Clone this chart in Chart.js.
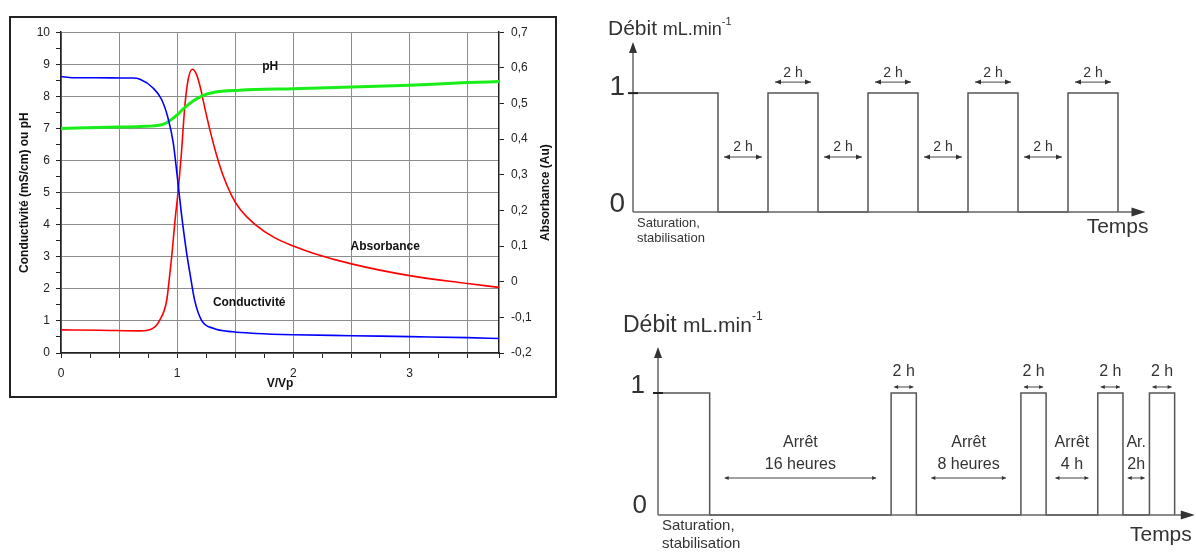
<!DOCTYPE html>
<html>
<head>
<meta charset="utf-8">
<script src="https://cdn.jsdelivr.net/npm/chart.js@4.4.1/dist/chart.umd.min.js"></script>
<style>
  body { margin: 0; background: #fff; width: 1196px; height: 552px; position: relative; overflow: hidden; }
  #cadre { position: absolute; left: 9px; top: 16px; width: 548px; height: 382px; box-sizing: border-box; border: 2px solid #222; }
  #courbes { position: absolute; left: 0; top: 0; }
  #debit1 { position: absolute; left: 590px; top: 0; }
  #debit2 { position: absolute; left: 590px; top: 290px; }
</style>
</head>
<body>
<div id="cadre"><canvas id="courbes" width="544" height="378"></canvas></div>
<canvas id="debit1" width="606" height="262"></canvas>
<canvas id="debit2" width="606" height="262"></canvas>
<script>
// --- elution curves (V/Vp) ---
const vvpCond = [0, 0.1, 0.3, 0.55, 0.62, 0.68, 0.79, 0.865, 0.92, 0.966, 1.0, 1.035, 1.08, 1.11, 1.15, 1.21, 1.31, 1.48, 1.68, 2.0, 2.5, 3.0, 3.5, 3.77];
const conductivite = [8.62, 8.58, 8.58, 8.57, 8.57, 8.53, 8.27, 7.91, 7.34, 6.56, 5.53, 4.39, 3.15, 2.48, 1.65, 1.02, 0.77, 0.66, 0.61, 0.57, 0.54, 0.51, 0.48, 0.45];

const vvpPh = [0, 0.4, 0.68, 0.87, 0.92, 1.0, 1.05, 1.14, 1.21, 1.31, 1.54, 2.0, 2.5, 3.0, 3.5, 3.77];
const ph = [7.0, 7.04, 7.06, 7.12, 7.2, 7.42, 7.6, 7.86, 8.01, 8.12, 8.19, 8.24, 8.29, 8.35, 8.43, 8.46];

const vvpAbs = [0, 0.335, 0.68, 0.79, 0.85, 0.91, 0.937, 0.957, 0.98, 1.01, 1.035, 1.066, 1.095, 1.13, 1.167, 1.2, 1.24, 1.28, 1.34, 1.395, 1.47, 1.54, 1.68, 1.83, 2.0, 2.17, 2.5, 3.0, 3.5, 3.77];
const absorbance = [-0.135, -0.136, -0.138, -0.131, -0.108, -0.052, 0.023, 0.084, 0.167, 0.26, 0.354, 0.493, 0.568, 0.596, 0.581, 0.544, 0.484, 0.428, 0.354, 0.298, 0.241, 0.204, 0.158, 0.125, 0.1, 0.08, 0.05, 0.017, -0.005, -0.016];

// --- flow schedules (hours) ---
const dureesHaut = [3.4, 2, 2, 2, 2, 2, 2, 2, 2];
const debitHaut = [1, 0, 1, 0, 1, 0, 1, 0, 1];
const textesHaut = [null, ['2 h'], ['2 h'], ['2 h'], ['2 h'], ['2 h'], ['2 h'], ['2 h'], ['2 h']];

const dureesBas = [4.1, 14.4, 2, 8.3, 2, 4.1, 2, 2.1, 2];
const debitBas = [1, 0, 1, 0, 1, 0, 1, 0, 1];
const textesBas = [null, ['Arrêt', '16 heures'], ['2 h'], ['Arrêt', '8 heures'], ['2 h'], ['Arrêt', '4 h'], ['2 h'], ['Ar.', '2h'], ['2 h']];

const FONT = "'Liberation Sans', Arial, sans-serif";
Chart.defaults.font.family = FONT;
Chart.defaults.animation = false;

function pts(xs, ys) { return xs.map((v, i) => ({ x: v, y: ys[i] })); }
function near(v, step) { return Math.abs(v / step - Math.round(v / step)) < 1e-6; }

const etiquettes = {
  id: 'etiquettes',
  afterDatasetsDraw(chart) {
    const { ctx, scales: { x, y }, chartArea } = chart;
    ctx.save();
    ctx.fillStyle = '#111';
    ctx.font = 'bold 12px ' + FONT;
    ctx.textAlign = 'center';
    ctx.textBaseline = 'middle';
    ctx.fillText('pH', x.getPixelForValue(1.8), y.getPixelForValue(8.91));
    ctx.fillText('Absorbance', x.getPixelForValue(2.79), y.getPixelForValue(3.32));
    ctx.fillText('Conductivité', x.getPixelForValue(1.62), y.getPixelForValue(1.58));
    // right axis title reads bottom to top
    ctx.translate(chartArea.right + 47, (chartArea.top + chartArea.bottom) / 2);
    ctx.rotate(-Math.PI / 2);
    ctx.fillText('Absorbance (Au)', 0, 0);
    ctx.restore();
  }
};

new Chart(document.getElementById('courbes'), {
  type: 'line',
  data: {
    datasets: [
      { label: 'Conductivité', data: pts(vvpCond, conductivite), yAxisID: 'y', borderColor: '#0000ff', borderWidth: 1.6 },
      { label: 'pH', data: pts(vvpPh, ph), yAxisID: 'y', borderColor: '#19ee19', borderWidth: 3 },
      { label: 'Absorbance', data: pts(vvpAbs, absorbance), yAxisID: 'y1', borderColor: '#ff0000', borderWidth: 1.6 }
    ]
  },
  options: {
    responsive: false,
    layout: { padding: { top: 13, left: 0, right: 0, bottom: 0 } },
    elements: { point: { radius: 0 }, line: { cubicInterpolationMode: 'monotone' } },
    plugins: { legend: { display: false }, tooltip: { enabled: false } },
    scales: {
      x: {
        type: 'linear', min: 0, max: 3.77,
        afterFit: s => { s.height = 43; },
        ticks: { stepSize: 0.25, autoSkip: false, maxRotation: 0, padding: 8, color: '#222', font: { size: 12 },
          callback: v => near(v, 1) ? Math.round(v) : '' },
        grid: { color: c => (c.tick && near(c.tick.value, 0.5)) ? '#8c8c8c' : 'transparent', tickColor: '#222', tickLength: 5 },
        border: { color: '#222', width: 1.5 },
        title: { display: true, text: 'V/Vp', color: '#111', font: { size: 12, weight: 'bold' }, padding: { top: 0, bottom: 5 } }
      },
      y: {
        position: 'left', min: 0, max: 10,
        afterFit: s => { s.width = 50; },
        ticks: { stepSize: 0.5, autoSkip: false, padding: 6, color: '#222', font: { size: 12 },
          callback: v => near(v, 1) ? Math.round(v) : '' },
        grid: { color: c => (c.tick && near(c.tick.value, 1)) ? '#8c8c8c' : 'transparent', tickColor: '#222', tickLength: 5 },
        border: { color: '#222', width: 1.5 },
        title: { display: true, text: 'Conductivité (mS/cm) ou pH', color: '#111', font: { size: 12, weight: 'bold' }, padding: { top: 6, bottom: 0 } }
      },
      y1: {
        position: 'right', min: -0.2, max: 0.7,
        afterFit: s => { s.width = 56; },
        ticks: { stepSize: 0.1, autoSkip: false, padding: 7, color: '#222', font: { size: 12 },
          callback: v => Math.abs(v) < 1e-9 ? '0' : v.toFixed(1).replace('.', ',') },
        grid: { drawOnChartArea: false, tickColor: '#222', tickLength: 5 },
        border: { color: '#222', width: 1.5 }
      }
    }
  },
  plugins: [etiquettes]
});

// --- step diagrams ---
function marches(durees, debits) {
  const out = [];
  let t = 0;
  durees.forEach((d, i) => { out.push({ x: t, y: debits[i] }); t += d; });
  out.push({ x: t, y: 0 });
  return out;
}

function fleche(ctx, a, b, yy, len, half) {
  ctx.beginPath(); ctx.moveTo(a, yy); ctx.lineTo(b, yy); ctx.stroke();
  ctx.beginPath();
  ctx.moveTo(a, yy); ctx.lineTo(a + len, yy - half); ctx.lineTo(a + len, yy + half); ctx.closePath();
  ctx.moveTo(b, yy); ctx.lineTo(b - len, yy - half); ctx.lineTo(b - len, yy + half); ctx.closePath();
  ctx.fill();
}

function schema(st, durees, debits, textes) {
  return {
    id: 'schema',
    afterDraw(chart) {
      const { ctx, scales: { x, y } } = chart;
      const x0 = x.getPixelForValue(0), xEnd = x.getPixelForValue(x.max);
      const yb = y.getPixelForValue(0), y1 = y.getPixelForValue(1), yTop = y.getPixelForValue(y.max);
      ctx.save();
      ctx.strokeStyle = '#666'; ctx.fillStyle = '#333'; ctx.lineWidth = 1.5;
      // axes + arrowheads
      ctx.beginPath(); ctx.moveTo(x0, yb); ctx.lineTo(x0, yTop + 8); ctx.moveTo(x0, yb); ctx.lineTo(xEnd - 8, yb); ctx.stroke();
      ctx.beginPath(); ctx.moveTo(x0, yTop); ctx.lineTo(x0 - 4, yTop + 11); ctx.lineTo(x0 + 4, yTop + 11); ctx.closePath();
      ctx.moveTo(xEnd, yb); ctx.lineTo(xEnd - 14, yb - 4.5); ctx.lineTo(xEnd - 14, yb + 4.5); ctx.closePath(); ctx.fill();
      ctx.strokeStyle = '#222'; ctx.lineWidth = 2;
      ctx.beginPath(); ctx.moveTo(x0 - 5, y1); ctx.lineTo(x0 + 5, y1); ctx.stroke();

      ctx.textBaseline = 'alphabetic';
      ctx.textAlign = 'right';
      ctx.font = st.big + 'px ' + FONT;
      ctx.fillText('1', x0 + st.oneDx, y1 + st.oneDy);
      ctx.fillText('0', x0 + st.zeroDx, yb + st.zeroDy);
      ctx.font = st.temps + 'px ' + FONT;
      ctx.fillText('Temps', xEnd + st.tempsDx, yb + st.tempsDy);

      ctx.textAlign = 'left';
      let tx = x0 + st.titreDx; const ty = yTop + st.titreDy;
      ctx.font = st.titre + 'px ' + FONT; ctx.fillText('Débit', tx, ty); tx += ctx.measureText('Débit ').width;
      ctx.font = st.unite + 'px ' + FONT; ctx.fillText('mL.min', tx, ty); tx += ctx.measureText('mL.min').width;
      ctx.font = st.sup + 'px ' + FONT; ctx.fillText('-1', tx, ty - st.unite * 0.55);

      ctx.font = st.sat + 'px ' + FONT;
      ctx.fillText('Saturation,', x0 + 4, yb + st.sat1);
      ctx.fillText('stabilisation', x0 + 4, yb + st.sat2);

      ctx.strokeStyle = '#444'; ctx.fillStyle = '#333'; ctx.lineWidth = 1;
      ctx.textAlign = 'center'; ctx.textBaseline = 'middle';
      ctx.font = st.petit + 'px ' + FONT;
      let t = 0;
      durees.forEach((d, i) => {
        const a = x.getPixelForValue(t), b = x.getPixelForValue(t + d);
        t += d;
        const lignes = textes[i];
        if (!lignes) return;
        const c = (a + b) / 2, w = b - a;
        if (debits[i] === 1) {
          ctx.fillText(lignes[0], c, y1 + st.onTexte);
          fleche(ctx, a + st.onMarge, b - st.onMarge, y1 + st.onFleche, st.pointe, st.demi);
        } else {
          const n = lignes.length;
          lignes.forEach((l, k) => ctx.fillText(l, c, yb + st.offTexte - (n - 1 - k) * st.interligne));
          const m = Math.min(st.offMarge, w * 0.18);
          fleche(ctx, a + m, b - m, yb + st.offFleche, st.pointe, st.demi);
        }
      });
      ctx.restore();
    }
  };
}

function diagramme(id, durees, debits, textes, xMax, yMax, pad, st) {
  new Chart(document.getElementById(id), {
    type: 'line',
    data: { datasets: [{ data: marches(durees, debits), stepped: true, borderColor: '#555', borderWidth: 1.5, pointRadius: 0, clip: false }] },
    options: {
      responsive: false,
      layout: { padding: pad },
      plugins: { legend: { display: false }, tooltip: { enabled: false } },
      scales: {
        x: { type: 'linear', min: 0, max: xMax, display: false },
        y: { min: 0, max: yMax, display: false }
      }
    },
    plugins: [schema(st, durees, debits, textes)]
  });
}

diagramme('debit1', dureesHaut, debitHaut, textesHaut, 20.5, 1.43,
  { left: 43, right: 50.5, top: 42, bottom: 50 },
  { big: 28, oneDx: -8, oneDy: 2, zeroDx: -8, zeroDy: 0, temps: 21, tempsDx: 3, tempsDy: 21,
    titre: 21, unite: 18, sup: 11, titreDx: -25, titreDy: -7, sat: 13, sat1: 15, sat2: 30,
    petit: 14, onTexte: -20, onFleche: -11, onMarge: 7, offTexte: -65, offFleche: -55, offMarge: 6,
    interligne: 22, pointe: 6, demi: 2.5 });

diagramme('debit2', dureesBas, debitBas, textesBas, 42.6, 1.377,
  { left: 68, right: 1.2, top: 57, bottom: 37 },
  { big: 26, oneDx: -13, oneDy: 0, zeroDx: -11, zeroDy: -2, temps: 21, tempsDx: -3, tempsDy: 26,
    titre: 23, unite: 21, sup: 12, titreDx: -35, titreDy: -15, sat: 15, sat1: 15, sat2: 33,
    petit: 16, onTexte: -21, onFleche: -6, onMarge: 3, offTexte: -50, offFleche: -37, offMarge: 15,
    interligne: 22, pointe: 4, demi: 2 });
</script>
</body>
</html>
